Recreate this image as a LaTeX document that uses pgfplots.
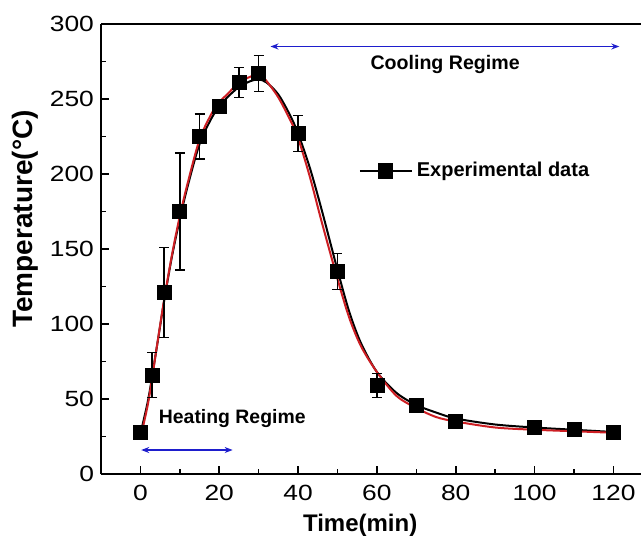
\documentclass[border=0pt]{standalone}
\usepackage{pgfplots}
\pgfplotsset{compat=1.18}
\usepackage{fontspec}
\setmainfont{Liberation Sans}
\newfontfamily\tickfont{Liberation Sans}[FakeStretch=1.2]
\usetikzlibrary{arrows.meta}
\definecolor{fitred}{RGB}{205,30,35}
\definecolor{arrowblue}{RGB}{30,30,205}

\begin{document}
\begin{tikzpicture}
\begin{axis}[
    width=270pt, height=225pt, scale only axis,
    xmin=-10, xmax=127, ymin=0, ymax=300,
    axis x line*=bottom, axis y line*=left,
    axis line style={line width=1pt},
    xtick={0,20,...,120}, ytick={0,50,...,300},
    minor x tick num=1, minor y tick num=1,
    tick align=inside, major tick length=4pt, minor tick length=2.5pt,
    tick style={line width=0.8pt, black},
    ticklabel style={font=\tickfont\fontsize{11}{12}\selectfont},
    xticklabel style={yshift=-2pt},
    /pgf/number format/assume math mode=true,
    xlabel={Time(min)}, ylabel={Temperature(°C)},
    xlabel style={font=\fontsize{12}{14}\selectfont\bfseries,
        at={(axis description cs:0.48,-0.113)}, anchor=center},
    ylabel style={font=\fontsize{14}{15}\selectfont\bfseries,
        at={(axis description cs:-0.141,0.567)}, anchor=center},
    legend style={draw=none, fill=none, at={(axis cs:53.8,202)}, anchor=west,
        font=\fontsize{10}{12}\selectfont\bfseries},
    legend image code/.code={\draw[mark repeat=2,mark phase=2,#1]
        plot coordinates {(0pt,0pt) (13pt,0pt) (26pt,0pt)};},
]
% black curve through the data
\addplot[black, line width=1pt, smooth, forget plot] coordinates {
    (0,27) (2,50) (4,82) (6,115) (8,145) (10,170) (12,192) (15,220)
    (18,237) (20,245) (22,251) (25,258) (28,262) (30,263) (32,261)
    (35,253) (38,239) (40,227) (43,204) (46,176) (50,136) (53,108)
    (56,87) (60,68) (65,54) (70,46) (75,41) (80,37) (90,33) (100,31)
    (110,29.5) (120,28)
};
% red fit, heating and cooling parts
\addplot[fitred, line width=1pt, smooth, forget plot] coordinates {
    (0,24) (2,48) (4,82) (6,116) (8,146) (10,172) (12,194) (15,223)
    (18,240) (20,248) (22,253) (25,261) (28,265) (30,267)
};
\addplot[fitred, line width=1pt, smooth, forget plot] coordinates {
    (30,267) (32,262) (35,251) (38,236) (40,224) (43,198) (46,168)
    (50,130) (53,104) (56,85) (60,68) (65,52) (70,44) (75,38) (80,35)
    (90,31) (100,29.5) (110,28.5) (120,27.5)
};
% experimental points
\addplot[black, only marks, mark=square*, mark size=3.5pt, forget plot,
    error bars/.cd, y dir=both, y explicit,
    error bar style={line width=0.75pt},
    error mark options={rotate=90, mark size=2.5pt, line width=0.75pt}]
coordinates {
    (0,28) +- (0,2)
    (3,66) +- (0,15)
    (6,121) +- (0,30)
    (10,175) +- (0,39)
    (15,225) +- (0,15)
    (20,245) +- (0,4)
    (25,261) +- (0,10)
    (30,267) +- (0,12)
    (40,227) +- (0,12)
    (50,135) +- (0,12)
    (60,59) +- (0,8)
    (70,46) +- (0,3)
    (80,35) +- (0,2)
    (100,31) +- (0,2)
    (110,30) +- (0,2)
    (120,28) +- (0,2)
};
\addlegendimage{black, line width=1pt, mark=square*, mark size=3.3pt}
\addlegendentry{Experimental data}

\draw[arrowblue, line width=0.8pt, {Stealth[length=4pt,width=3pt]}-{Stealth[length=4pt,width=3pt]}]
    (axis cs:33,285) -- (axis cs:121.5,285);
\draw[arrowblue, line width=0.8pt, {Stealth[length=4pt,width=3pt]}-{Stealth[length=4pt,width=3pt]}]
    (axis cs:0.2,16) -- (axis cs:23.4,16);
\node[font=\fontsize{9.8}{12}\selectfont\bfseries] at (axis cs:77.3,273) {Cooling Regime};
\node[font=\fontsize{9.7}{12}\selectfont\bfseries] at (axis cs:23.3,37) {Heating Regime};
\end{axis}
\draw[line width=1pt] (current axis.north west) -- (current axis.north east);
\pgfresetboundingbox
\path[use as bounding box] (current axis.south west) ++(-50.5pt,-34pt) rectangle ++(320.5pt,271pt);
\end{tikzpicture}
\end{document}
